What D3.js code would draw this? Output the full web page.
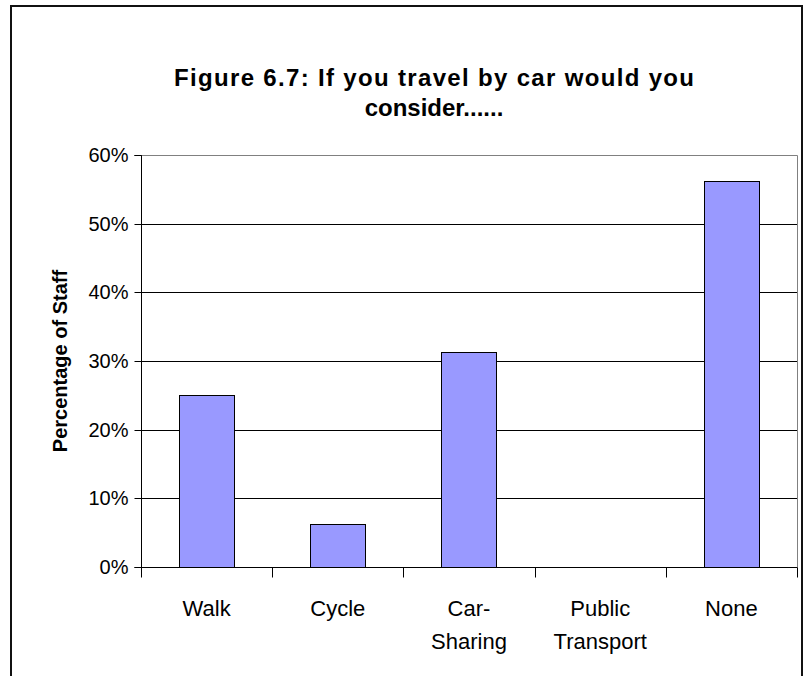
<!DOCTYPE html>
<html><head><meta charset="utf-8">
<script src="https://cdn.jsdelivr.net/npm/d3@7"></script>
<style>body{margin:0;background:#fff}svg{display:block}text{font-family:"Liberation Sans",Arial,sans-serif;fill:#000}</style>
</head><body>
<svg id="c" width="805" height="676"></svg>
<script>
const categories = ["Walk", "Cycle", "Car-Sharing", "Public Transport", "None"];
const categoryLines = [["Walk"], ["Cycle"], ["Car-", "Sharing"], ["Public", "Transport"], ["None"]];
const values = [0.25, 0.0625, 0.3125, 0, 0.5625];
const yTicks = [0, 0.1, 0.2, 0.3, 0.4, 0.5, 0.6];
const titleLines = ["Figure 6.7: If you travel by car would you", "consider......"];
const yTitle = "Percentage of Staff";

const svg = d3.select("#c");
const m = {left: 141, right: 797, top: 155, bottom: 567};

// outer chart border
svg.append("rect").attr("x", 11).attr("y", 6).attr("width", 791).attr("height", 700)
  .attr("fill", "#fff").attr("stroke", "#111").attr("stroke-width", 2);

const x = d3.scaleBand().domain(categories).range([m.left, m.right]).paddingInner(0).paddingOuter(0);
const y = d3.scaleLinear().domain([0, 0.6]).range([m.bottom, m.top]);

// gridlines
svg.append("g").selectAll("line").data(yTicks.filter(t => t > 0 && t < 0.6)).join("line")
  .attr("x1", m.left).attr("x2", m.right)
  .attr("y1", d => Math.round(y(d)) + 0.5).attr("y2", d => Math.round(y(d)) + 0.5)
  .attr("stroke", "#000").attr("stroke-width", 1);

// plot border (gray top & right)
svg.append("path")
  .attr("d", `M${m.left},${m.top + 0.5}H${m.right + 0.5}V${m.bottom}`)
  .attr("fill", "none").attr("stroke", "#808080").attr("stroke-width", 1);

// bars
const bw = x.bandwidth() * 0.42;
svg.append("g").selectAll("rect").data(values.map((v, i) => ({c: categories[i], v})).filter(d => d.v > 0)).join("rect")
  .attr("x", d => Math.round(x(d.c) + (x.bandwidth() - bw) / 2) + 0.5)
  .attr("y", d => Math.round(y(d.v)) + 0.5)
  .attr("width", Math.round(bw))
  .attr("height", d => Math.round(y(0)) - Math.round(y(d.v)))
  .attr("fill", "#9999FF").attr("stroke", "#000").attr("stroke-width", 1);

// y axis
const yAxis = d3.axisLeft(y).tickValues(yTicks).tickFormat(d3.format(".0%")).tickSize(7).tickPadding(6);
const ga = svg.append("g").attr("transform", `translate(${m.left + 0.5},0)`).call(yAxis);
ga.select(".domain").attr("d", `M-7,${Math.round(y(0.6)) + 0.5}H0V${Math.round(y(0)) + 0.5}H-7`).attr("stroke", "#000");
ga.selectAll(".tick").attr("transform", d => `translate(0,${Math.round(y(d)) + 0.5})`);
ga.selectAll(".tick line").attr("stroke", "#000");
ga.selectAll(".tick text").attr("font-size", 20).attr("font-family", "Liberation Sans, Arial, sans-serif").attr("fill", "#000");

// x axis
const gx = svg.append("g").attr("transform", `translate(0,${Math.round(y(0)) + 0.5})`);
gx.append("line").attr("x1", m.left).attr("x2", m.right + 0.5).attr("stroke", "#000");
const bounds = categories.map(c => x(c)).concat([m.right]);
gx.selectAll("line.t").data(bounds).join("line").attr("class", "t")
  .attr("x1", d => Math.round(d) + 0.5).attr("x2", d => Math.round(d) + 0.5)
  .attr("y1", 0).attr("y2", 10).attr("stroke", "#000");
const lbl = gx.selectAll("text.c").data(categories).join("text").attr("class", "c")
  .attr("text-anchor", "middle").attr("font-size", 22)
  .attr("transform", d => `translate(${x(d) + x.bandwidth() / 2},0)`);
lbl.selectAll("tspan").data((d, i) => categoryLines[i]).join("tspan")
  .attr("x", 0).attr("y", (d, i) => 48 + i * 33).text(d => d);

// titles
svg.append("g").selectAll("text").data(titleLines).join("text")
  .attr("x", 434).attr("y", (d, i) => 86 + i * 30)
  .attr("text-anchor", "middle").attr("font-size", 24).attr("font-weight", "bold")
  .each(function(d, i) {
    const t = d3.select(this).text(d);
    if (i === 0) t.attr("textLength", 520).attr("lengthAdjust", "spacing");
  });

svg.append("text").attr("transform", `translate(67,${(m.top + m.bottom) / 2}) rotate(-90)`)
  .attr("text-anchor", "middle").attr("font-size", 20).attr("font-weight", "bold").text(yTitle);
</script>
</body></html>
